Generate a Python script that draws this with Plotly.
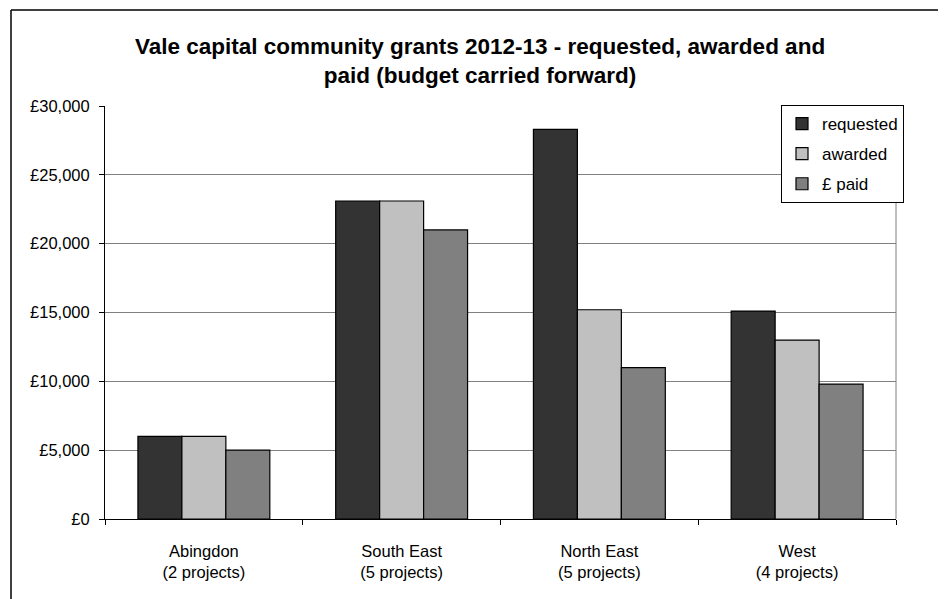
import plotly.graph_objects as go

categories = ["Abingdon<br>(2 projects)", "South East<br>(5 projects)",
              "North East<br>(5 projects)", "West<br>(4 projects)"]
requested = [6000, 23100, 28300, 15100]
awarded = [6000, 23100, 15200, 13000]
paid = [5000, 21000, 11000, 9800]
series_names = ["requested", "awarded", "£ paid"]
series_colors = ["#333333", "#C0C0C0", "#808080"]
tick_vals = [0, 5000, 10000, 15000, 20000, 25000, 30000]
tick_text = ["£0", "£5,000", "£10,000", "£15,000", "£20,000", "£25,000", "£30,000"]

FONT = "Liberation Sans, Arial, sans-serif"

fig = go.Figure()
for i, (name, vals, col) in enumerate(zip(series_names, [requested, awarded, paid], series_colors)):
    fig.add_trace(go.Bar(
        x=categories, y=vals, name=name,
        marker=dict(color=col, line=dict(color="#000000", width=1.2)),
        legendgroup=f"g{i}",
    ))

OFF = 8  # default page body margin
W, H = 938, 591
L, T = 105 - OFF, 106 - OFF
R = W - (896 - OFF)
B = H - (519 - OFF)
pw = W - L - R
ph = H - T - B


def px_x(x):
    return (x - OFF - L) / pw


def px_y(y):
    return (H - B - (y - OFF)) / ph


fig.update_layout(
    width=W, height=H,
    margin=dict(l=L, r=R, t=T, b=B, autoexpand=False),
    paper_bgcolor="white", plot_bgcolor="white",
    barmode="group", bargap=0.333, bargroupgap=0,
    font=dict(family=FONT, size=16.5, color="#000000"),
    title=dict(
        text="<b>Vale capital community grants 2012-13 - requested, awarded and<br>paid (budget carried forward)</b>",
        x=px_x(480), xref="paper", xanchor="center",
        y=1 - (54 - OFF) / H, yref="container", yanchor="top",
        font=dict(family=FONT, size=22.5, color="#000000"),
    ),
    legend=dict(
        x=px_x(781), y=px_y(105), xanchor="left", yanchor="top",
        bgcolor="white", bordercolor="#000000", borderwidth=1,
        font=dict(family=FONT, size=17, color="#000000"),
        traceorder="grouped", tracegroupgap=5, itemwidth=30,
    ),
    xaxis=dict(
        showline=True, linecolor="#000000", linewidth=1,
        ticks="outside", tickson="boundaries", ticklen=5, tickcolor="#000000",
        showgrid=False, tickfont=dict(family=FONT, size=16.5),
        ticklabelstandoff=17,
    ),
    yaxis=dict(
        range=[0, 30000], tickvals=tick_vals, ticktext=tick_text,
        showline=True, linecolor="#000000", linewidth=1,
        ticks="outside", ticklen=5, tickcolor="#000000",
        showgrid=True, gridcolor="#808080", gridwidth=1,
        zeroline=False, tickfont=dict(family=FONT, size=16.5),
        ticklabelstandoff=6,
    ),
    shapes=[
        dict(type="line", xref="paper", yref="paper", x0=1, x1=1, y0=0, y1=1,
             line=dict(color="#808080", width=1)),
        dict(type="line", xref="paper", yref="paper",
             x0=px_x(11), x1=px_x(11), y0=px_y(10), y1=px_y(610),
             line=dict(color="#000000", width=1.5)),
        dict(type="line", xref="paper", yref="paper",
             x0=px_x(11), x1=px_x(960), y0=px_y(10), y1=px_y(10),
             line=dict(color="#000000", width=1.5)),
    ],
)

fig.write_html("out.html")
